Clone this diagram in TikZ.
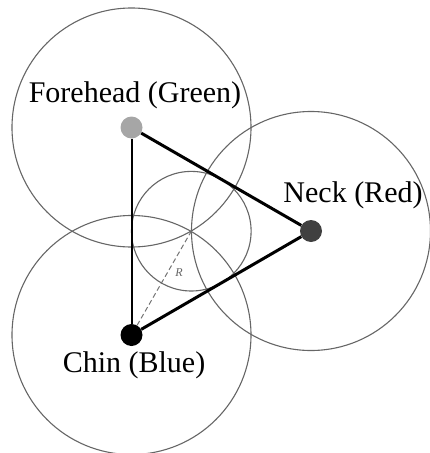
\documentclass[tikz,border=0pt]{standalone}
\usepackage{fontspec}
\setmainfont{Liberation Serif}
\begin{document}
\begin{tikzpicture}[x=1pt,y=-1pt,
  ring/.style={draw=black!60,line width=1.1pt},
  dot/.style={circle,inner sep=0pt,minimum size=22pt},
  lbl/.style={font=\fontsize{30}{33}\selectfont,inner sep=0pt},
  side/.style={line width=3pt},
  ]
\useasboundingbox (0,0) rectangle (430,453);
\coordinate (g) at (191.3,231.2);
\draw[ring] (131.5,127.5) circle[radius=119.5];
\draw[ring] (311,231) circle[radius=119.5];
\draw[ring] (131.5,335) circle[radius=119.5];
\draw[ring] (g) circle[radius=59.8];
\node[dot,fill=black!35] (f) at (131.5,127.5) {};
\node[dot,fill=black!75] (n) at (311,231) {};
\node[dot,fill=black] (c) at (131.5,335) {};
\draw[line width=2pt] (f) -- (c);
\draw[side] (f) -- (n);
\draw[side] (c) -- (n);
\draw[draw=black!55,line width=1pt,dash pattern=on 5pt off 3pt] (c) -- (g);
\node[font=\itshape\fontsize{12}{13}\selectfont,text=black!60] (r) at (179,273) {R};
\node[lbl] (fl) at (135,95) {Forehead (Green)};
\node[lbl] (nl) at (353,195) {Neck (Red)};
\node[lbl] (cl) at (134,365) {Chin (Blue)};
\end{tikzpicture}
\end{document}
